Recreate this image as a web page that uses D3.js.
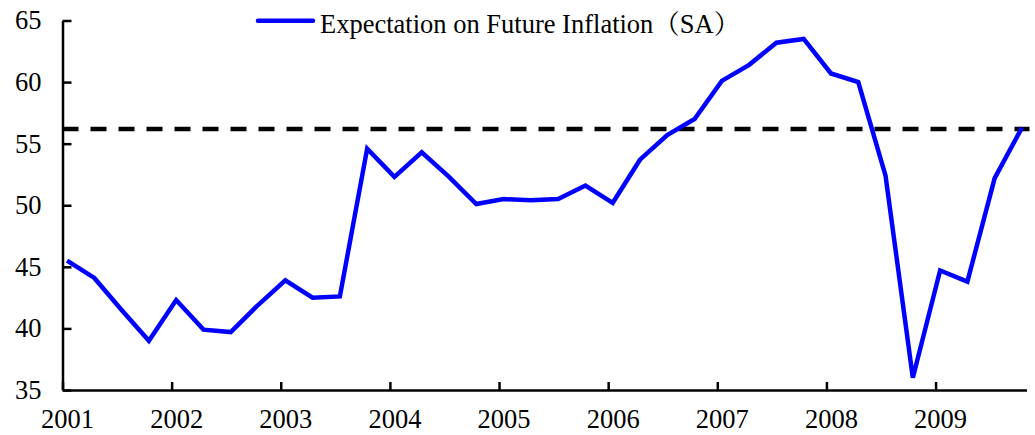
<!DOCTYPE html>
<html>
<head>
<meta charset="utf-8">
<script src="https://cdn.jsdelivr.net/npm/d3@7"></script>
<style>
  body { margin: 0; background: #fff; }
</style>
</head>
<body>
<div id="canvas"></div>
<script>
// quarterly survey index, 2001Q1 .. 2009Q4 (first month of each quarter)
const years = [2001, 2002, 2003, 2004, 2005, 2006, 2007, 2008, 2009]
const quarterMonths = [0, 3, 6, 9]
const values = [
  45.5, 44.1, 41.5, 39.0,
  42.3, 39.9, 39.7, 41.9,
  43.9, 42.5, 42.6, 54.6,
  52.3, 54.3, 52.3, 50.1,
  50.5, 50.4, 50.5, 51.6,
  50.2, 53.7, 55.7, 57.0,
  60.1, 61.4, 63.2, 63.5,
  60.7, 60.0, 52.4, 36.0,
  44.7, 43.8, 52.2, 56.3
]
const average = 56.2
const yTicks = [35, 40, 45, 50, 55, 60, 65]
const seriesName = "Expectation on Future Inflation（SA）"

const font = "'Liberation Serif', 'Times New Roman', 'Noto Serif CJK SC', 'Noto Sans CJK SC', serif"
const fontSize = "26.5px"

const data = []
years.forEach((yr, i) => quarterMonths.forEach((m, j) => {
  data.push({ month: i * 12 + m, value: values[i * 4 + j] })
}))

const width = 1035
const height = 435
const margin = { top: 20.5, left: 62.5, bottom: 45, right: 8.5 }

const svg = d3.select("#canvas").append("svg")
  .attr("width", width)
  .attr("height", height)

// date axis in months, Jan 2001 .. Oct 2009 (106 monthly slots)
const x = d3.scaleLinear()
  .domain([0, 106])
  .range([margin.left, width - margin.right])

const y = d3.scaleLinear()
  .domain([35, 65])
  .range([height - margin.bottom, margin.top])

const slot = x(1) - x(0)

// y axis
const yAxis = svg.append("g")
  .attr("transform", `translate(${margin.left},0)`)
  .call(d3.axisLeft(y).tickValues(yTicks).tickSize(-9).tickSizeOuter(0).tickPadding(21))
yAxis.select(".domain").attr("stroke", "#000").attr("stroke-width", 2.5)
yAxis.selectAll(".tick line").attr("stroke", "#000").attr("stroke-width", 2.5)
yAxis.selectAll(".tick text")
  .style("font-family", font)
  .style("font-size", fontSize)
  .attr("fill", "#000")

// x axis
const xAxis = svg.append("g")
  .attr("transform", `translate(0,${height - margin.bottom})`)
  .call(d3.axisBottom(x)
    .tickValues(years.map((yr, i) => i * 12))
    .tickFormat((d, i) => years[i])
    .tickSize(-8).tickSizeOuter(0).tickPadding(19))
xAxis.select(".domain").attr("stroke", "#000").attr("stroke-width", 2.5)
xAxis.selectAll(".tick line").attr("stroke", "#000").attr("stroke-width", 2.5)
xAxis.selectAll(".tick text")
  .attr("x", slot / 2)
  .style("font-family", font)
  .style("font-size", fontSize)
  .attr("fill", "#000")

// average line
svg.append("line")
  .attr("x1", x(0))
  .attr("x2", x(106) + 3)
  .attr("y1", y(average))
  .attr("y2", y(average))
  .attr("stroke", "#000")
  .attr("stroke-width", 4.5)
  .attr("stroke-dasharray", "16,12")

// series
const line = d3.line()
  .x(d => x(d.month + 0.5))
  .y(d => y(d.value))

svg.append("path")
  .datum(data)
  .attr("fill", "none")
  .attr("stroke", "#0000ff")
  .attr("stroke-width", 4.5)
  .attr("stroke-linejoin", "miter")
  .attr("d", line)

// legend
const legend = svg.append("g")
legend.append("line")
  .attr("x1", 258).attr("x2", 313)
  .attr("y1", 20.7).attr("y2", 20.7)
  .attr("stroke", "#0000ff")
  .attr("stroke-width", 4.5)
  .attr("stroke-linecap", "round")
legend.append("text")
  .attr("x", 320)
  .attr("y", 33)
  .style("font-family", font)
  .style("font-size", fontSize)
  .attr("fill", "#000")
  .text(seriesName)
</script>
</body>
</html>
